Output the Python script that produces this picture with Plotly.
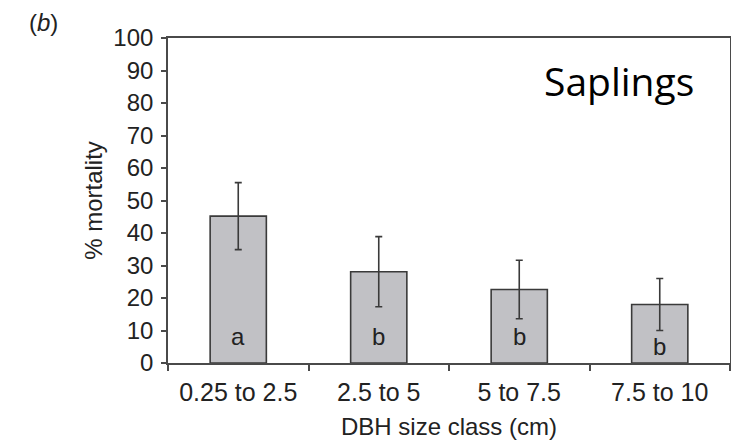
import plotly.graph_objects as go

categories = ["0.25 to 2.5", "2.5 to 5", "5 to 7.5", "7.5 to 10"]
mortality = [45.2, 28.1, 22.6, 18.0]
error = [10.3, 10.8, 9.0, 8.0]
letters = ["a", "b", "b", "b"]
y_ticks = list(range(0, 101, 10))

AX = "#4a4a4a"
TXT = "#222222"
FONT = "Liberation Sans, Arial, Helvetica, sans-serif"

# page has an 8px body margin on every side; keep the figure inside the window
OFF = 8
W, H = 739 - 2 * OFF, 448 - 2 * OFF
PX0, PX1, PY0, PY1 = 168, 730, 38, 363  # plot area in page pixels
L, T = PX0 - OFF, PY0 - OFF
R = W - (PX1 - OFF)
B = H - (PY1 - OFF)


def dom_x(px):
    return (px - PX0) / (PX1 - PX0)


def dom_y(py):
    return 1 - (py - PY0) / (PY1 - PY0)


fig = go.Figure()
fig.add_trace(go.Bar(
    x=categories, y=mortality, width=0.4,
    marker=dict(color="#c1c1c5", line=dict(color="#3a3a3a", width=1.6)),
    error_y=dict(type="data", array=error, visible=True, color="#3a3a3a",
                 thickness=1.6, width=3.5),
    showlegend=False,
))

for i, (c, l) in enumerate(zip(categories, letters)):
    fig.add_annotation(x=c, y=0, yref="y", text=l, showarrow=False,
                       xanchor="center", yanchor="bottom",
                       yshift=11 if i < 3 else 1,
                       font=dict(size=24, color=TXT, family=FONT))

fig.add_annotation(x=dom_x(619), y=dom_y(80), xref="x domain", yref="y domain",
                   text="Saplings", showarrow=False, xanchor="center", yanchor="middle",
                   font=dict(size=39, color="#000000", family="Open Sans, Lato, sans-serif"))
fig.add_annotation(x=dom_x(43), y=dom_y(23), xref="x domain", yref="y domain",
                   text="(<i>b</i>)", showarrow=False, xanchor="center", yanchor="middle",
                   font=dict(size=24, color=TXT, family=FONT))

fig.update_layout(
    width=W, height=H,
    margin=dict(l=L, r=R, t=T, b=B, autoexpand=False),
    paper_bgcolor="white", plot_bgcolor="white",
    font=dict(family=FONT, size=24, color=TXT),
    xaxis=dict(
        type="category", tickson="boundaries", ticks="outside", ticklen=6,
        tickwidth=1.5, tickcolor=AX, showline=True, linecolor=AX, linewidth=1.6,
        mirror=True, showgrid=False, range=[-0.5, 3.5], ticklabelstandoff=6,
        tickfont=dict(size=25, color=TXT),
        title=dict(text="DBH size class (cm)", font=dict(size=24, color=TXT), standoff=13),
    ),
    yaxis=dict(
        range=[0, 100], tickvals=y_ticks, ticks="outside", ticklen=5, tickwidth=1.5,
        tickcolor=AX, showline=True, linecolor=AX, linewidth=1.6, mirror=True,
        showgrid=False, zeroline=False, ticklabelstandoff=3,
        tickfont=dict(size=24, color=TXT),
        title=dict(text="% mortality", font=dict(size=24, color=TXT), standoff=4),
    ),
)

fig.write_html("out.html")
